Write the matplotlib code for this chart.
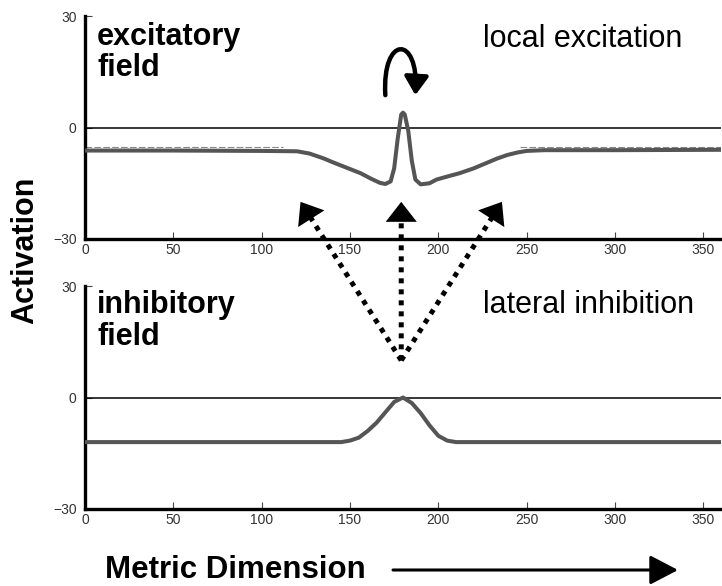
import numpy as np
import matplotlib.pyplot as plt
from matplotlib.patches import FancyArrowPatch, ConnectionPatch
from matplotlib.path import Path

plt.rcParams['font.family'] = ['Liberation Sans', 'DejaVu Sans']

# excitatory field activation
exc_x = [0, 50, 100, 120, 127, 135, 140, 148, 156, 162, 167, 170, 173, 175, 177, 179,
         180, 181, 183, 185, 187, 190, 195, 199, 205, 212, 220, 227, 233, 239, 245, 250,
         260, 300, 360]
exc_y = [-6.2, -6.2, -6.3, -6.4, -7.0, -8.3, -9.3, -10.8, -12.3, -13.8, -14.9, -15.2,
         -14.5, -11.0, -3.0, 3.5, 4.0, 3.5, -1.0, -9.0, -14.0, -15.3, -15.0, -14.0, -13.2,
         -12.3, -11.0, -9.6, -8.4, -7.4, -6.7, -6.3, -6.1, -6.1, -6.0]
# faint trace above the excitatory baseline
trace_left_x = [0, 112]
trace_right_x = [246, 360]
trace_y = -5.3

# inhibitory field activation
inh_x = [0, 50, 100, 145, 150, 155, 160, 165, 170, 175, 180, 185, 190, 195, 200, 205,
         210, 260, 300, 360]
inh_y = [-12.0, -12.0, -12.0, -12.0, -11.6, -10.8, -9.0, -6.8, -4.0, -1.2, 0.0, -1.5,
         -4.2, -7.5, -10.3, -11.6, -12.0, -12.0, -12.0, -12.0]

xticks = [0, 50, 100, 150, 200, 250, 300, 350]
yticks = [-30, 0, 30]

W, H = 722, 586
fig = plt.figure(figsize=(W / 100, H / 100), dpi=100)


def fx(px):
    return px / W


def fy(py):
    return 1 - py / H


ax1 = fig.add_axes([fx(85), fy(239), fx(636), 223 / H])
ax2 = fig.add_axes([fx(85), fy(509), fx(636), 223 / H])

curve_col = '#555555'
for ax in (ax1, ax2):
    ax.set_xlim(0, 360)
    ax.set_ylim(-30, 30)
    ax.set_xticks(xticks)
    ax.set_yticks(yticks)
    ax.spines['top'].set_visible(False)
    ax.spines['right'].set_visible(False)
    ax.spines['left'].set_linewidth(2.4)
    ax.spines['bottom'].set_linewidth(2.4)
    ax.tick_params(direction='in', length=5, width=0.8, color='#444444',
                   labelsize=10, labelcolor='#333333')
    ax.tick_params(axis='x', pad=3)
    ax.tick_params(axis='y', pad=6)
    ax.axhline(0, color='black', lw=1.1, zorder=2)

ax1.plot(trace_left_x, [trace_y] * 2, color='#888888', lw=0.8, ls=(0, (6, 2)), zorder=2)
ax1.plot(trace_right_x, [trace_y] * 2, color='#888888', lw=0.8, ls=(0, (6, 2)), zorder=2)
ax1.plot(exc_x, exc_y, color=curve_col, lw=2.9, zorder=3)
ax2.plot(inh_x, inh_y, color=curve_col, lw=2.9, zorder=3)

# curved arrow over the peak
verts = [(170, 8.7), (168, 25), (189, 25), (187, 8.7)]
codes = [Path.MOVETO, Path.CURVE4, Path.CURVE4, Path.CURVE4]
curl = FancyArrowPatch(path=Path(verts, codes),
                       arrowstyle='-|>,head_length=0.55,head_width=0.36',
                       mutation_scale=20, lw=3.2, color='black', fc='black')
ax1.add_patch(curl)

# dotted arrows from the inhibitory peak back to the excitatory field
origin = (179, 10)
tips = [(122, -20), (179, -20), (236, -20)]
for tip in tips:
    line = ConnectionPatch(xyA=origin, coordsA=ax2.transData,
                           xyB=tip, coordsB=ax1.transData,
                           arrowstyle='-', lw=3.6, ls=(0, (1, 1.2)),
                           color='black', shrinkB=12, capstyle='butt')
    fig.add_artist(line)
    head = ConnectionPatch(xyA=origin, coordsA=ax2.transData,
                           xyB=tip, coordsB=ax1.transData,
                           arrowstyle='-|>,head_length=0.72,head_width=0.56',
                           mutation_scale=20, lw=0, color='black', fc='black')
    fig.add_artist(head)

# labels
fig.text(fx(97), fy(45), 'excitatory', fontsize=22, fontweight='bold', va='baseline')
fig.text(fx(97), fy(76), 'field', fontsize=22, fontweight='bold', va='baseline')
fig.text(fx(97), fy(313), 'inhibitory', fontsize=22, fontweight='bold', va='baseline')
fig.text(fx(97), fy(345), 'field', fontsize=22, fontweight='bold', va='baseline')
fig.text(fx(483), fy(47), 'local excitation', fontsize=22, va='baseline')
fig.text(fx(483), fy(313), 'lateral inhibition', fontsize=22, va='baseline')
fig.text(fx(25), fy(250), 'Activation', fontsize=22, fontweight='bold',
         rotation=90, ha='center', va='center')
fig.text(fx(105), fy(578), 'Metric Dimension', fontsize=22.5, fontweight='bold',
         va='baseline')

dim_arrow = FancyArrowPatch((fx(393), fy(570)), (fx(678), fy(570)),
                            transform=fig.transFigure,
                            arrowstyle='-|>,head_length=0.86,head_width=0.45',
                            mutation_scale=20, lw=2.2, color='black', fc='black',
                            shrinkA=0, shrinkB=0)
fig.add_artist(dim_arrow)

fig.savefig('out.png', dpi=100)
